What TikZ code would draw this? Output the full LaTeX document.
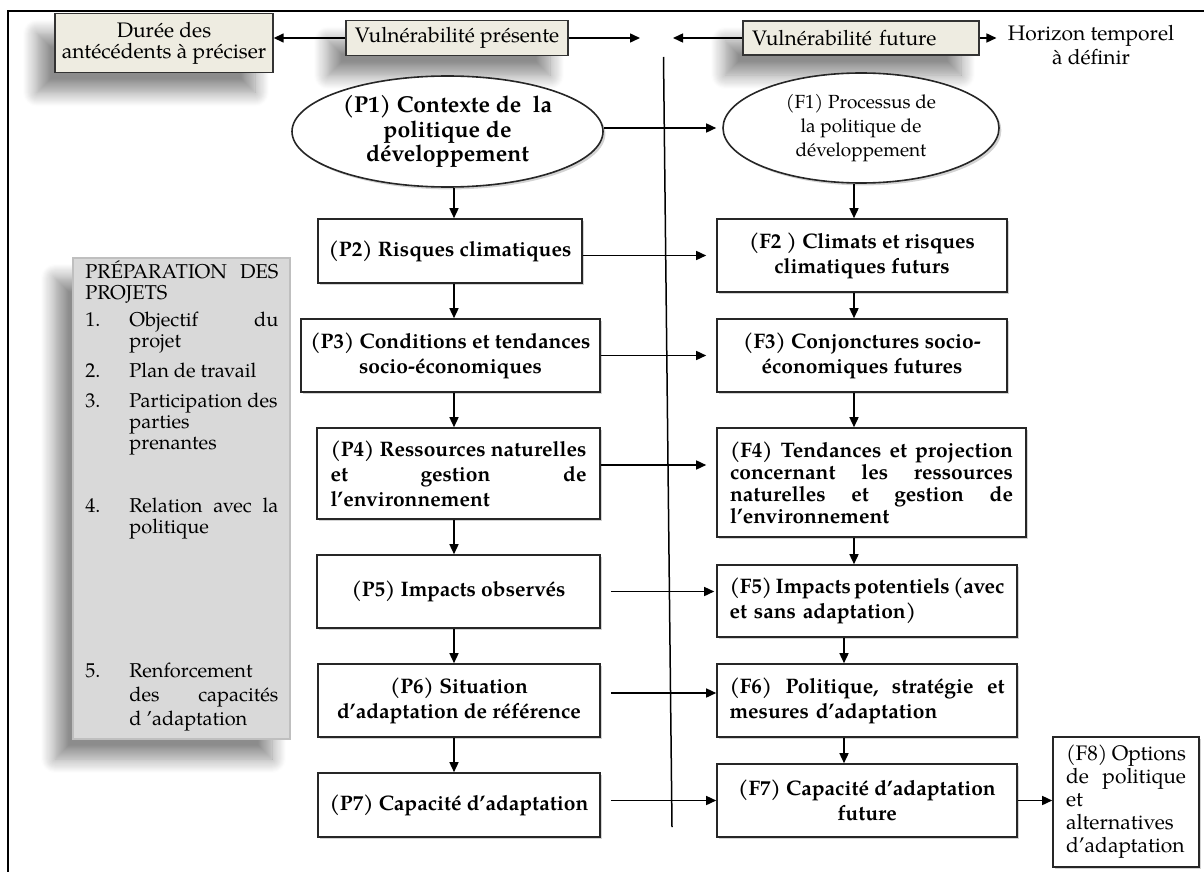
\documentclass[tikz,border=0pt]{standalone}
\usepackage{fontspec}
\setmainfont{texgyrepagella}[Extension=.otf,UprightFont=*-regular,BoldFont=*-bold,ItalicFont=*-italic,BoldItalicFont=*-bolditalic]
\usetikzlibrary{shapes.geometric,arrows.meta,shadows,shadows.blur}
\definecolor{headbeige}{RGB}{238,236,225}
\definecolor{prepgrey}{RGB}{217,217,217}
\setlength{\parindent}{0pt}

\begin{document}
\begin{tikzpicture}[x=0.5pt,y=-0.5pt,
      every node/.style={inner sep=0pt},
      softshadow/.style={blur shadow={shadow xshift=-9pt,shadow yshift=-10pt,shadow blur radius=7pt,shadow blur steps=14,shadow opacity=45}},
      head/.style={draw=black!80,line width=0.7pt,fill=headbeige,align=center,
        font=\fontsize{10.5}{10.5}\selectfont,softshadow},
      stage/.style={draw=black!85,line width=0.8pt,fill=white,align=center,
        font=\fontsize{10.5}{12.5}\selectfont\bfseries,
        drop shadow={shadow xshift=1.2pt,shadow yshift=-1.2pt,opacity=0.35}},
      goal/.style={stage,ellipse,font=\fontsize{11.5}{12.25}\selectfont\bfseries},
      item/.style={anchor=base west,font=\fontsize{10}{10.5}\selectfont},
      arr/.style={line width=0.75pt,-{Triangle[length=5pt,width=4.5pt]}}]
    \useasboundingbox (0,0) rectangle (1204,872);
    \draw[line width=1.1pt] (8,872) -- (8,11) -- (1204,11);

    \node[head,minimum width=109pt,minimum height=29.5pt] (duree) at (164,43) {Durée des\\antécédents à préciser};
    \node[head,minimum width=111pt,minimum height=17.5pt] (vpres) at (457,38) {Vulnérabilité présente};
    \node[head,minimum width=118pt,minimum height=17pt,text width=109pt,align=left] (vfut) at (861,38) {Vulnérabilité future};
    \node[align=center,inner xsep=5.5pt,font=\fontsize{10.5}{10}\selectfont] (horiz) at (1091,45) {Horizon temporel\\à définir};

    \coordinate (pend) at (640,38);
    \coordinate (fend) at (673,38);
    \coordinate (divtop) at (663.5,57);
    \coordinate (divbot) at (672,827);
    \coordinate (pcol) at (454,0);
    \coordinate (fcol) at (854,0);
    \coordinate (fcolb) at (844,0);

    \node[fill=prepgrey,draw=black!25,line width=0.6pt,minimum width=108.5pt,minimum height=240.5pt,softshadow] (prep) at (181.5,498.5) {};
    \node[item] (prept) at (85,278) {\parbox[t]{96.5pt}{PRÉPARATION\hfill DES\newline PROJETS}};
    \node[item] (prep1) at (85,326) {\makebox[22pt][l]{1.}\parbox[t]{74.5pt}{Objectif\hfill du\newline projet}};
    \node[item] (prep2) at (85,377) {\makebox[22pt][l]{2.}\parbox[t]{74.5pt}{Plan de travail}};
    \node[item] (prep3) at (85,407) {\makebox[22pt][l]{3.}\parbox[t]{74.5pt}{Participation~des\newline parties\newline prenantes}};
    \node[item] (prep4) at (85,512) {\makebox[22pt][l]{4.}\parbox[t]{74.5pt}{Relation\hfill avec\hfill la\newline politique}};
    \node[item,font=\fontsize{10}{12}\selectfont] (prep5) at (85,677) {\makebox[22pt][l]{5.}\parbox[t]{74.5pt}{Renforcement\newline des\hfill capacités\newline d ’adaptation}};

    \node[goal,minimum width=155.5pt,minimum height=55.5pt] (P1) at (447.5,131.5) {(P1) Contexte de\ \ la\\politique de\\développement};
    \node[goal,minimum width=138pt,minimum height=55pt,font=\fontsize{9.5}{12}\selectfont] (F1) at (861,128) {(F1) Processus de\\la politique de\\développement};

    \node[stage,minimum width=132pt,minimum height=32pt] (P2) at (450,251) {(P2) Risques climatiques};
    \node[stage,minimum width=149.5pt,minimum height=36.5pt] (P3) at (450.5,355.5) {(P3) Conditions et tendances\\socio-économiques};
    \node[stage,minimum width=141.5pt,minimum height=45.5pt,text width=128pt,align=left] (P4) at (458.5,473.5) {(P4)\hfill Ressources\hfill naturelles\\et\hfill gestion\hfill de\\l’environnement};
    \node[stage,minimum width=141.5pt,minimum height=36.5pt] (P5) at (458.5,591.5) {(P5) Impacts observés};
    \node[stage,minimum width=141pt,minimum height=36.5pt] (P6) at (459,700.5) {(P6) Situation\\d’adaptation de référence};
    \node[stage,minimum width=141pt,minimum height=32pt] (P7) at (459,805) {(P7) Capacité d’adaptation};

    \node[stage,minimum width=145pt,minimum height=36.5pt] (F2) at (862,255.5) {(F2 ) Climats et risques\\climatiques futurs};
    \node[stage,minimum width=145pt,minimum height=36.5pt] (F3) at (862,355.5) {(F3) Conjonctures socio-\\économiques futures};
    \node[stage,minimum width=154.5pt,minimum height=54.5pt,text width=141.5pt,align=left,font=\fontsize{10.5}{11}\selectfont\bfseries] (F4) at (871.5,482.5) {(F4)\hfill Tendances\hfill et\hfill projection\\concernant\hfill les\hfill ressources\\naturelles\hfill et\hfill gestion\hfill de\\l’environnement};
    \node[stage,minimum width=150pt,minimum height=36pt,text width=137.5pt,align=left] (F5) at (867,601) {(F5)\hfill Impacts\hfill potentiels\hfill (avec\\et sans adaptation)};
    \node[stage,minimum width=150pt,minimum height=36.5pt,text width=137.5pt,align=left] (F6) at (867,700.5) {(F6)\hfill Politique,\hfill stratégie\hfill et\\mesures d’adaptation};
    \node[stage,minimum width=150pt,minimum height=36.5pt] (F7) at (867,800.5) {(F7) Capacité d’adaptation\\future};
    \node[stage,minimum width=73pt,minimum height=65pt,text width=60pt,align=left,font=\fontsize{10.5}{11.5}\selectfont] (F8) at (1126,802) {(F8)\hfill Options\\de\hfill politique\\et\\alternatives\\d’adaptation};

    \draw[arr] (vpres.west) -- (vpres.west -| duree.east);
    \draw[arr] (vpres.east) -- (pend);
    \draw[arr] (vfut.west) -- (fend);
    \draw[arr] (vfut.east) -- (vfut.east -| horiz.west);
    \draw[line width=0.75pt] (divtop) -- (divbot);

    \draw[arr] (P1.south -| pcol) -- (P2.north -| pcol);
    \draw[arr] (P2.south -| pcol) -- (P3.north -| pcol);
    \draw[arr] (P3.south -| pcol) -- (P4.north -| pcol);
    \draw[arr] (P4.south -| pcol) -- (P5.north -| pcol);
    \draw[arr] (P5.south -| pcol) -- (P6.north -| pcol);
    \draw[arr] (P6.south -| pcol) -- (P7.north -| pcol);
    \draw[arr] (F1.south -| fcol) -- (F2.north -| fcol);
    \draw[arr] (F2.south -| fcol) -- (F3.north -| fcol);
    \draw[arr] (F3.south -| fcol) -- (F4.north -| fcol);
    \draw[arr] (F4.south -| fcol) -- (F5.north -| fcol);
    \draw[arr] (F5.south -| fcolb) -- (F6.north -| fcolb);
    \draw[arr] (F6.south -| fcolb) -- (F7.north -| fcolb);

    \draw[arr,shorten >=3pt] (P1.east |- F1.west) -- (F1.west);
    \draw[arr,shorten >=5pt] (P2.east |- F2.west) -- (F2.west);
    \draw[arr,shorten >=5pt] (P3.east) -- (P3.east -| F3.west);
    \draw[arr,shorten >=5pt] ([yshift=4.25pt]P4.east) -- ([yshift=4.25pt]P4.east -| F4.west);
    \draw[arr,shorten <=5pt,shorten >=1pt] (P5.east) -- (P5.east -| F5.west);
    \draw[arr,shorten <=5pt] ([yshift=3.75pt]P6.east) -- ([yshift=3.75pt]P6.east -| F6.west);
    \draw[arr,shorten <=5pt] (P7.east |- F7.west) -- (F7.west);
    \draw[arr] (F7.east) -- (F7.east -| F8.west);
  \end{tikzpicture}
\end{document}
